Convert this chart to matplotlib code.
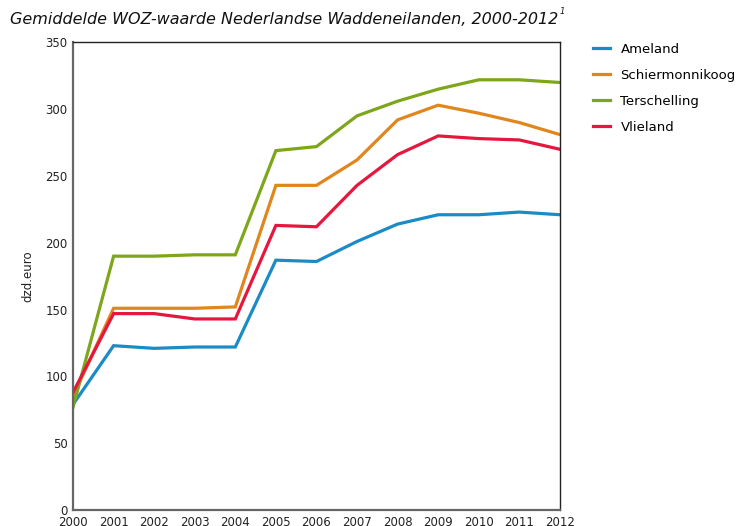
import matplotlib
matplotlib.use("Agg")
import matplotlib.pyplot as plt

years = list(range(2000, 2013))

ameland = [79, 123, 121, 122, 122, 187, 186, 201, 214, 221, 221, 223, 221]
schiermonnikoog = [85, 151, 151, 151, 152, 243, 243, 262, 292, 303, 297, 290, 281]
terschelling = [77, 190, 190, 191, 191, 269, 272, 295, 306, 315, 322, 322, 320]
vlieland = [88, 147, 147, 143, 143, 213, 212, 243, 266, 280, 278, 277, 270]

names = ["Ameland", "Schiermonnikoog", "Terschelling", "Vlieland"]
colors = ["#1b8bc8", "#e0861c", "#7da61a", "#e5173f"]

fig = plt.figure(figsize=(7.49, 5.26), dpi=100)
ax = fig.add_axes([0.0975, 0.0304, 0.650, 0.889])

for vals, name, col in zip([ameland, schiermonnikoog, terschelling, vlieland], names, colors):
    ax.plot(years, vals, color=col, lw=2.3, label=name, solid_joinstyle="miter")

ax.set_xlim(2000, 2012)
ax.set_ylim(0, 350)
ax.set_xticks(years)
ax.set_yticks(range(0, 351, 50))
ax.tick_params(axis="both", length=0, labelsize=8.5, colors="#222222")
ax.tick_params(axis="x", pad=4)
ax.tick_params(axis="y", pad=4)

for side in ["left", "bottom"]:
    ax.spines[side].set_color("#666666")
    ax.spines[side].set_linewidth(1.6)
for side in ["top", "right"]:
    ax.spines[side].set_color("#222222")
    ax.spines[side].set_linewidth(1.0)

ax.set_ylabel("dzd.euro", fontsize=8.5, color="#222222", labelpad=8)

fig.text(0.013, 0.963, "Gemiddelde WOZ-waarde Nederlandse Waddeneilanden, 2000-2012",
         fontsize=11.5, style="italic", color="#111111", va="center")
fig.text(0.747, 0.978, "1", fontsize=6, style="italic", color="#111111", va="center")

ax.legend(loc="upper left", bbox_to_anchor=(1.058, 1.011), frameon=False,
          fontsize=9.5, handlelength=1.25, handletextpad=0.8, labelspacing=1.0,
          borderaxespad=0)

fig.savefig("out.png", dpi=100)
